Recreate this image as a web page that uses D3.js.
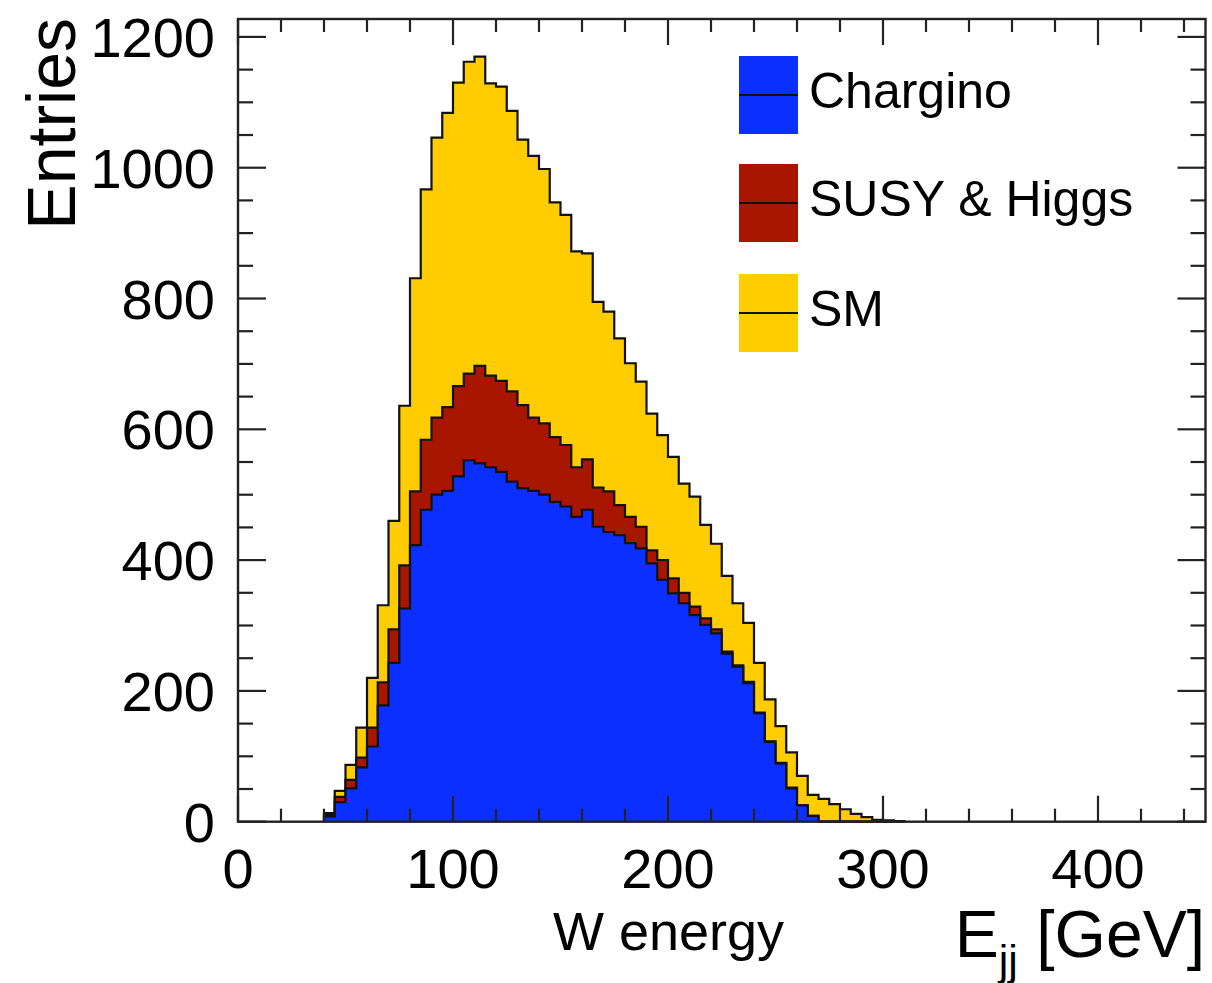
<!DOCTYPE html>
<html>
<head>
<meta charset="utf-8">
<script src="https://cdn.jsdelivr.net/npm/d3@7"></script>
<style>
  html, body { margin: 0; padding: 0; background: #fff; }
  svg { display: block; font-family: "Liberation Sans", Arial, Helvetica, sans-serif; }
</style>
</head>
<body>
<svg id="chart" width="1212" height="983"></svg>
<script>
// Histogram binning: 5 GeV bins, first filled bin starts at 40 GeV
const binStart = 40;
const binWidth = 5;

// Entries per bin for each process
const chargino = [8,30,51,83,115,178,243,326,423,477,500,506,528,553,548,542,535,520,510,506,
                  500,489,482,466,477,451,443,438,426,418,395,370,349,334,316,301,288,257,237,212,
                  166,122,89,51,25,9,0,0,0,0,0,0,0,0];
const susyHiggs = [2,8,13,15,29,35,51,66,82,107,118,128,138,132,149,140,139,138,127,112,
                   109,99,94,76,77,60,62,46,40,33,20,30,23,16,13,10,6,3,2,2,
                   1,1,1,1,0,0,0,0,0,0,0,0,0,0];
const sm = [3,9,23,46,76,118,166,244,326,383,428,450,464,477,473,447,450,429,406,400,
            389,359,352,330,315,284,275,255,235,222,209,191,186,167,168,143,131,116,95,90,
            76,64,56,54,45,32,35,27,19,12,7,3,2,1];

const seriesNames = ["Chargino", "SUSY & Higgs", "SM"];
const seriesColors = ["#0a2fff", "#a81600", "#ffcc00"];

const xTickValues = [0, 100, 200, 300, 400];
const yTickValues = [0, 200, 400, 600, 800, 1000, 1200];

const svg = d3.select("#chart");

const frame = { left: 238, right: 1205.5, top: 19, bottom: 821.7 };
const x = d3.scaleLinear().domain([0, 450]).range([frame.left, frame.right]);
const y = d3.scaleLinear().domain([0, 1227.4]).range([frame.bottom, frame.top]);

// Build cumulative stack (Chargino at bottom, SM on top)
const bins = chargino.map((c, i) => {
  const lo = binStart + i * binWidth;
  const s1 = c;
  const s2 = s1 + susyHiggs[i];
  const s3 = s2 + sm[i];
  return { lo, hi: lo + binWidth, cum: [s1, s2, s3] };
});

function stepPoints(k) {
  const pts = [[bins[0].lo, 0]];
  bins.forEach(b => { pts.push([b.lo, b.cum[k]]); pts.push([b.hi, b.cum[k]]); });
  pts.push([bins[bins.length - 1].hi, 0]);
  return pts;
}

const area = d3.area().x(d => x(d[0])).y0(y(0)).y1(d => y(d[1]));
const line = d3.line().x(d => x(d[0])).y(d => y(d[1]));

const plot = svg.append("g");
// Draw from the top of the stack down so lower layers sit in front
[2, 1, 0].forEach(k => {
  const pts = stepPoints(k);
  plot.append("path").attr("d", area(pts)).attr("fill", seriesColors[k]);
  plot.append("path").attr("d", line(pts))
    .attr("fill", "none").attr("stroke", "#111").attr("stroke-width", 2.2)
    .attr("stroke-linejoin", "miter");
});

// Frame
svg.append("rect")
  .attr("x", frame.left).attr("y", frame.top)
  .attr("width", frame.right - frame.left).attr("height", frame.bottom - frame.top)
  .attr("fill", "none").attr("stroke", "#222").attr("stroke-width", 2.4);

// Ticks on all four sides, pointing inwards
const ticks = svg.append("g").attr("stroke", "#222").attr("stroke-width", 2.2);
d3.range(0, 451, 20).forEach(v => {
  const major = v % 100 === 0;
  const len = major ? 26 : 13;
  const px = x(v);
  ticks.append("line").attr("x1", px).attr("x2", px).attr("y1", frame.bottom).attr("y2", frame.bottom - len);
  ticks.append("line").attr("x1", px).attr("x2", px).attr("y1", frame.top).attr("y2", frame.top + len);
});
d3.range(0, 1227, 50).forEach(v => {
  const major = v % 200 === 0;
  const len = major ? 28 : 15;
  const py = y(v);
  ticks.append("line").attr("x1", frame.left).attr("x2", frame.left + len).attr("y1", py).attr("y2", py);
  ticks.append("line").attr("x1", frame.right).attr("x2", frame.right - len).attr("y1", py).attr("y2", py);
});

// Tick labels
const labels = svg.append("g").attr("fill", "#000").attr("font-size", 56);
xTickValues.forEach(v => {
  labels.append("text").attr("x", x(v)).attr("y", 888)
    .attr("text-anchor", "middle").text(v);
});
yTickValues.forEach(v => {
  labels.append("text").attr("x", 215).attr("y", y(v) + 20)
    .attr("text-anchor", "end").text(v);
});

// Axis titles
svg.append("text")
  .attr("transform", "translate(75,18) rotate(-90)")
  .attr("text-anchor", "end").attr("font-size", 68).text("Entries");

const xt = svg.append("text").attr("x", 1205).attr("y", 957)
  .attr("text-anchor", "end").attr("font-size", 66);
xt.append("tspan").text("E");
xt.append("tspan").attr("font-size", 43).attr("dy", 18).text("jj");
xt.append("tspan").attr("dy", -18).text(" [GeV]");

svg.append("text").attr("x", 553).attr("y", 950)
  .attr("font-size", 54).text("W energy");

// Legend
const legend = svg.append("g");
const legendRows = [56, 164, 274];
seriesNames.forEach((name, i) => {
  const top = legendRows[i];
  legend.append("rect").attr("x", 739).attr("y", top).attr("width", 59).attr("height", 78)
    .attr("fill", seriesColors[i]);
  legend.append("line").attr("x1", 739).attr("x2", 798)
    .attr("y1", top + 39).attr("y2", top + 39)
    .attr("stroke", "#111").attr("stroke-width", 2);
  legend.append("text").attr("x", 809).attr("y", top + 52)
    .attr("font-size", 50).attr("fill", "#000").text(name);
});
</script>
</body>
</html>
